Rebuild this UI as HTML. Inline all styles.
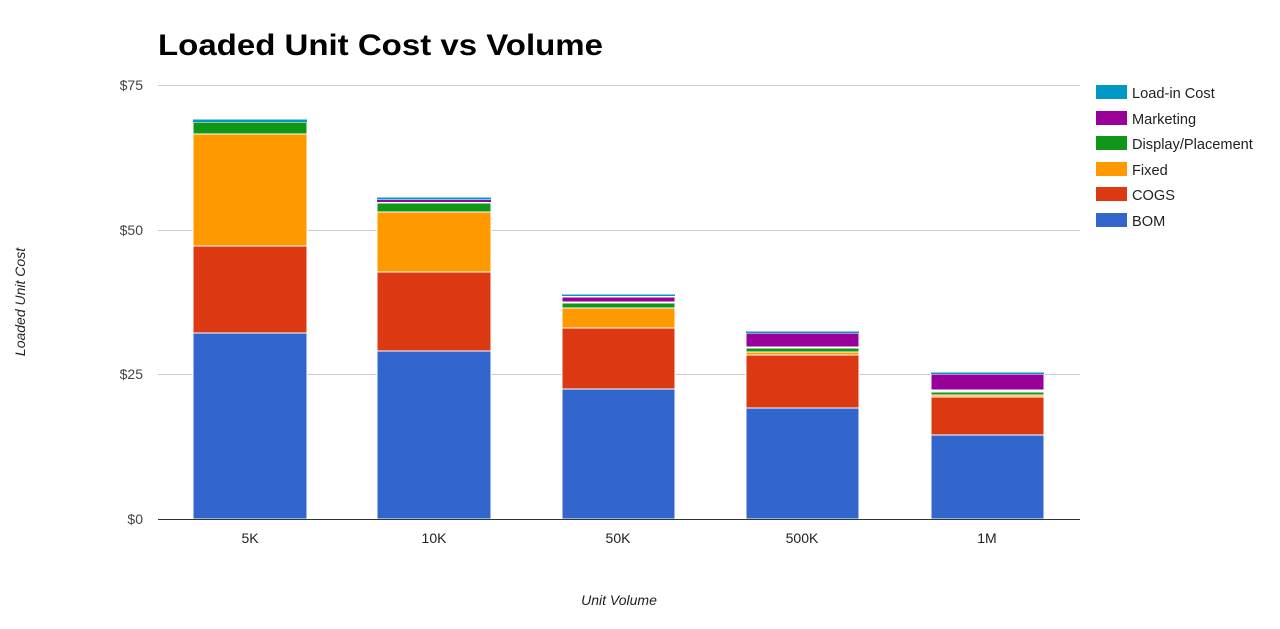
<!DOCTYPE html>
<html><head><meta charset="utf-8"><style>
html,body{margin:0;padding:0;background:#fff;}
svg{display:block;font-family:"Liberation Sans",Arial,sans-serif;}
</style></head><body>
<svg width="1280" height="629" viewBox="0 0 1280 629">
<text x="158" y="55" font-size="30" font-weight="bold" fill="#000" textLength="445" lengthAdjust="spacingAndGlyphs">Loaded Unit Cost vs Volume</text>
<g stroke="#ccc" stroke-width="1">
<line x1="158" y1="85.5" x2="1080" y2="85.5"/>
<line x1="158" y1="230.5" x2="1080" y2="230.5"/>
<line x1="158" y1="374.5" x2="1080" y2="374.5"/>
</g>
<g font-size="14" fill="#444" text-anchor="end">
<text x="143" y="90">$75</text>
<text x="143" y="235">$50</text>
<text x="143" y="379">$25</text>
<text x="143" y="524">$0</text>
</g>
<g stroke="#fff" stroke-width="1">
<rect x="193" y="333" width="114" height="186" fill="#3366cc"/>
<rect x="193" y="246" width="114" height="87" fill="#dc3912"/>
<rect x="193" y="134" width="114" height="112" fill="#ff9900"/>
<rect x="193" y="122" width="114" height="12" fill="#109618"/>
<rect x="193" y="119.5" width="114" height="2.5" fill="#0099c6" stroke="none"/>
<rect x="377" y="351" width="114" height="168" fill="#3366cc"/>
<rect x="377" y="272" width="114" height="79" fill="#dc3912"/>
<rect x="377" y="212" width="114" height="60" fill="#ff9900"/>
<rect x="377" y="203" width="114" height="9" fill="#109618"/>
<rect x="377" y="200" width="114" height="2" fill="#990099" stroke="none"/>
<rect x="377" y="197.5" width="114" height="2" fill="#0099c6" stroke="none"/>
<rect x="562" y="389" width="113" height="130" fill="#3366cc"/>
<rect x="562" y="328" width="113" height="61" fill="#dc3912"/>
<rect x="562" y="308" width="113" height="20" fill="#ff9900"/>
<rect x="562" y="303" width="113" height="5" fill="#109618"/>
<rect x="562" y="297" width="113" height="5" fill="#990099"/>
<rect x="562" y="294.5" width="113" height="1.5" fill="#0099c6" stroke="none"/>
<rect x="746" y="408" width="113" height="111" fill="#3366cc"/>
<rect x="746" y="355" width="113" height="53" fill="#dc3912"/>
<rect x="746" y="352" width="113" height="3" fill="#ff9900"/>
<rect x="746" y="348" width="113" height="4" fill="#109618"/>
<rect x="746" y="333" width="113" height="14" fill="#990099"/>
<rect x="746" y="331.5" width="113" height="1.5" fill="#0099c6" stroke="none"/>
<rect x="931" y="435" width="113" height="84" fill="#3366cc"/>
<rect x="931" y="397" width="113" height="38" fill="#dc3912"/>
<rect x="931" y="395" width="113" height="2" fill="#ff9900"/>
<rect x="931" y="392" width="113" height="3" fill="#109618"/>
<rect x="931" y="374" width="113" height="16" fill="#990099"/>
<rect x="931" y="372.5" width="113" height="1.5" fill="#0099c6" stroke="none"/>
</g>
<line x1="158" y1="519.5" x2="1080" y2="519.5" stroke="#333" stroke-width="1"/>
<g font-size="14" fill="#222" text-anchor="middle">
<text x="250" y="543">5K</text>
<text x="434" y="543">10K</text>
<text x="618" y="543">50K</text>
<text x="802" y="543">500K</text>
<text x="987" y="543">1M</text>
</g>
<text x="619" y="605" font-size="14" font-style="italic" fill="#222" text-anchor="middle">Unit Volume</text>
<text transform="translate(25,302) rotate(-90)" font-size="14" font-style="italic" fill="#222" text-anchor="middle">Loaded Unit Cost</text>
<g font-size="14.6" fill="#222">
<rect x="1096" y="85" width="31" height="14" fill="#0099c6"/><text x="1132" y="98">Load-in Cost</text>
<rect x="1096" y="111" width="31" height="14" fill="#990099"/><text x="1132" y="124">Marketing</text>
<rect x="1096" y="136" width="31" height="14" fill="#109618"/><text x="1132" y="149">Display/Placement</text>
<rect x="1096" y="162" width="31" height="14" fill="#ff9900"/><text x="1132" y="175">Fixed</text>
<rect x="1096" y="187" width="31" height="14" fill="#dc3912"/><text x="1132" y="200">COGS</text>
<rect x="1096" y="213" width="31" height="14" fill="#3366cc"/><text x="1132" y="226">BOM</text>
</g>
</svg>
</body></html>
